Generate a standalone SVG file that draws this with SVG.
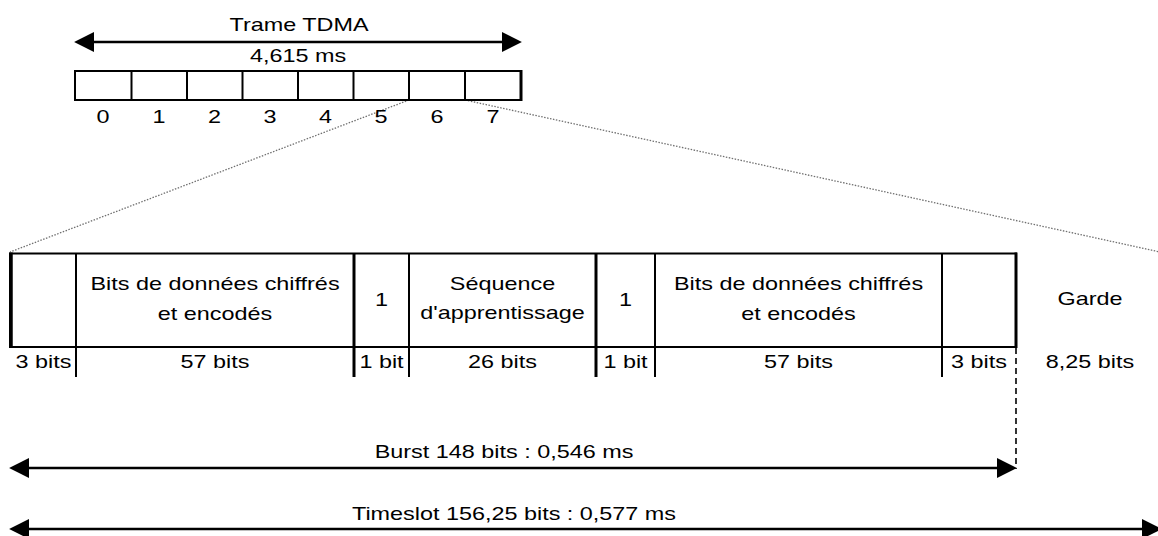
<svg xmlns="http://www.w3.org/2000/svg" width="1158" height="536" viewBox="0 0 1158 536">
<style>
.t{font-family:"Liberation Sans",Arial,sans-serif;font-size:18px;fill:#000;text-anchor:middle}
.s{text-anchor:start}
.b{fill:#fff;stroke:#000;stroke-width:2}
.ln{stroke:#000;stroke-width:2;fill:none}
.thk{stroke:#000;stroke-width:3;fill:none}
.dot{stroke:#707070;stroke-width:1.3;stroke-dasharray:1.5 1.5;fill:none}
.dash{stroke:#000;stroke-width:1.6;stroke-dasharray:6 4;fill:none}
.arr{stroke:#000;stroke-width:2.5;fill:none;marker-start:url(#ah);marker-end:url(#ah)}
</style>
<defs>
<marker id="ah" markerUnits="userSpaceOnUse" markerWidth="20" markerHeight="20" viewBox="0 0 19 19" refX="2" refY="9.5" orient="auto-start-reverse">
<path d="M0,0 L19,9.5 L0,19 z" fill="#000"/>
</marker>
</defs>
<rect width="1158" height="536" fill="#fff"/>

<g id="connectors">
<line class="dot" x1="409" y1="100" x2="10" y2="252"/>
<line class="dot" x1="465" y1="100" x2="1160" y2="252"/>
<line class="arr" x1="92" y1="42" x2="504" y2="42"/>
<line class="dash" x1="1016" y1="348" x2="1016" y2="469"/>
<line class="arr" x1="27" y1="468" x2="999" y2="468"/>
<line class="arr" x1="27" y1="529" x2="1144" y2="529"/>
</g>

<g id="frame-label">
<text class="t" transform="translate(299,31) scale(1.3,1)">Trame TDMA</text>
<text class="t" transform="translate(298,62) scale(1.3,1)">4,615 ms</text>
</g>

<g id="tdma-frame">
<rect class="b" x="75" y="71" width="446" height="29"/>
<line class="thk" x1="521" y1="70" x2="521" y2="101"/>
<g class="ln">
<line x1="131.5" y1="70" x2="131.5" y2="101"/>
<line x1="187" y1="70" x2="187" y2="101"/>
<line x1="242.5" y1="70" x2="242.5" y2="101"/>
<line x1="298" y1="70" x2="298" y2="101"/>
<line x1="353.5" y1="70" x2="353.5" y2="101"/>
<line x1="409" y1="70" x2="409" y2="101"/>
<line x1="465" y1="70" x2="465" y2="101"/>
</g>
<text class="t" transform="translate(103,123) scale(1.3,1)">0</text>
<text class="t" transform="translate(159,123) scale(1.3,1)">1</text>
<text class="t" transform="translate(214.5,123) scale(1.3,1)">2</text>
<text class="t" transform="translate(270,123) scale(1.3,1)">3</text>
<text class="t" transform="translate(325.5,123) scale(1.3,1)">4</text>
<text class="t" transform="translate(381,123) scale(1.3,1)">5</text>
<text class="t" transform="translate(437,123) scale(1.3,1)">6</text>
<text class="t" transform="translate(493,123) scale(1.3,1)">7</text>
</g>

<g id="burst">
<rect class="b" x="10" y="253.5" width="1006" height="93.5"/>
<line x1="11" y1="252.5" x2="11" y2="348" stroke="#000" stroke-width="3.5"/>
<line class="thk" x1="1016" y1="252.5" x2="1016" y2="348"/>

<g id="tail-left">
<text class="t" transform="translate(43.5,368) scale(1.3,1)">3 bits</text>
</g>
<g id="data-1">
<line class="ln" x1="76" y1="253" x2="76" y2="377"/>
<text class="t" transform="translate(215,290) scale(1.3,1)">Bits de données chiffrés</text>
<text class="t" transform="translate(215,320) scale(1.3,1)">et encodés</text>
<text class="t" transform="translate(215,368) scale(1.3,1)">57 bits</text>
</g>
<g id="flag-1">
<line class="thk" x1="354" y1="253" x2="354" y2="377"/>
<text class="t" transform="translate(381.5,306) scale(1.3,1)">1</text>
<text class="t" transform="translate(381.5,368) scale(1.3,1)">1 bit</text>
</g>
<g id="training">
<line class="ln" x1="409" y1="253" x2="409" y2="377"/>
<text class="t" transform="translate(502.5,290) scale(1.3,1)">Séquence</text>
<text class="t" transform="translate(502.5,319) scale(1.3,1)">d'apprentissage</text>
<text class="t" transform="translate(502.5,368) scale(1.3,1)">26 bits</text>
</g>
<g id="flag-2">
<line class="thk" x1="596" y1="253" x2="596" y2="377"/>
<text class="t" transform="translate(625.5,306) scale(1.3,1)">1</text>
<text class="t" transform="translate(625.5,368) scale(1.3,1)">1 bit</text>
</g>
<g id="data-2">
<line class="ln" x1="655" y1="253" x2="655" y2="377"/>
<text class="t" transform="translate(798.5,290) scale(1.3,1)">Bits de données chiffrés</text>
<text class="t" transform="translate(798.5,320) scale(1.3,1)">et encodés</text>
<text class="t" transform="translate(798.5,368) scale(1.3,1)">57 bits</text>
</g>
<g id="tail-right">
<line class="ln" x1="942" y1="253" x2="942" y2="377"/>
<text class="t" transform="translate(979,368) scale(1.3,1)">3 bits</text>
</g>
</g>

<g id="guard">
<text class="t" transform="translate(1090,305) scale(1.3,1)">Garde</text>
<text class="t" transform="translate(1090,368) scale(1.3,1)">8,25 bits</text>
</g>

<g id="arrow-labels">
<text class="t" transform="translate(504,458) scale(1.3,1)">Burst 148 bits : 0,546 ms</text>
<text class="t" transform="translate(514,520) scale(1.3,1)">Timeslot 156,25 bits : 0,577 ms</text>
</g>
</svg>
